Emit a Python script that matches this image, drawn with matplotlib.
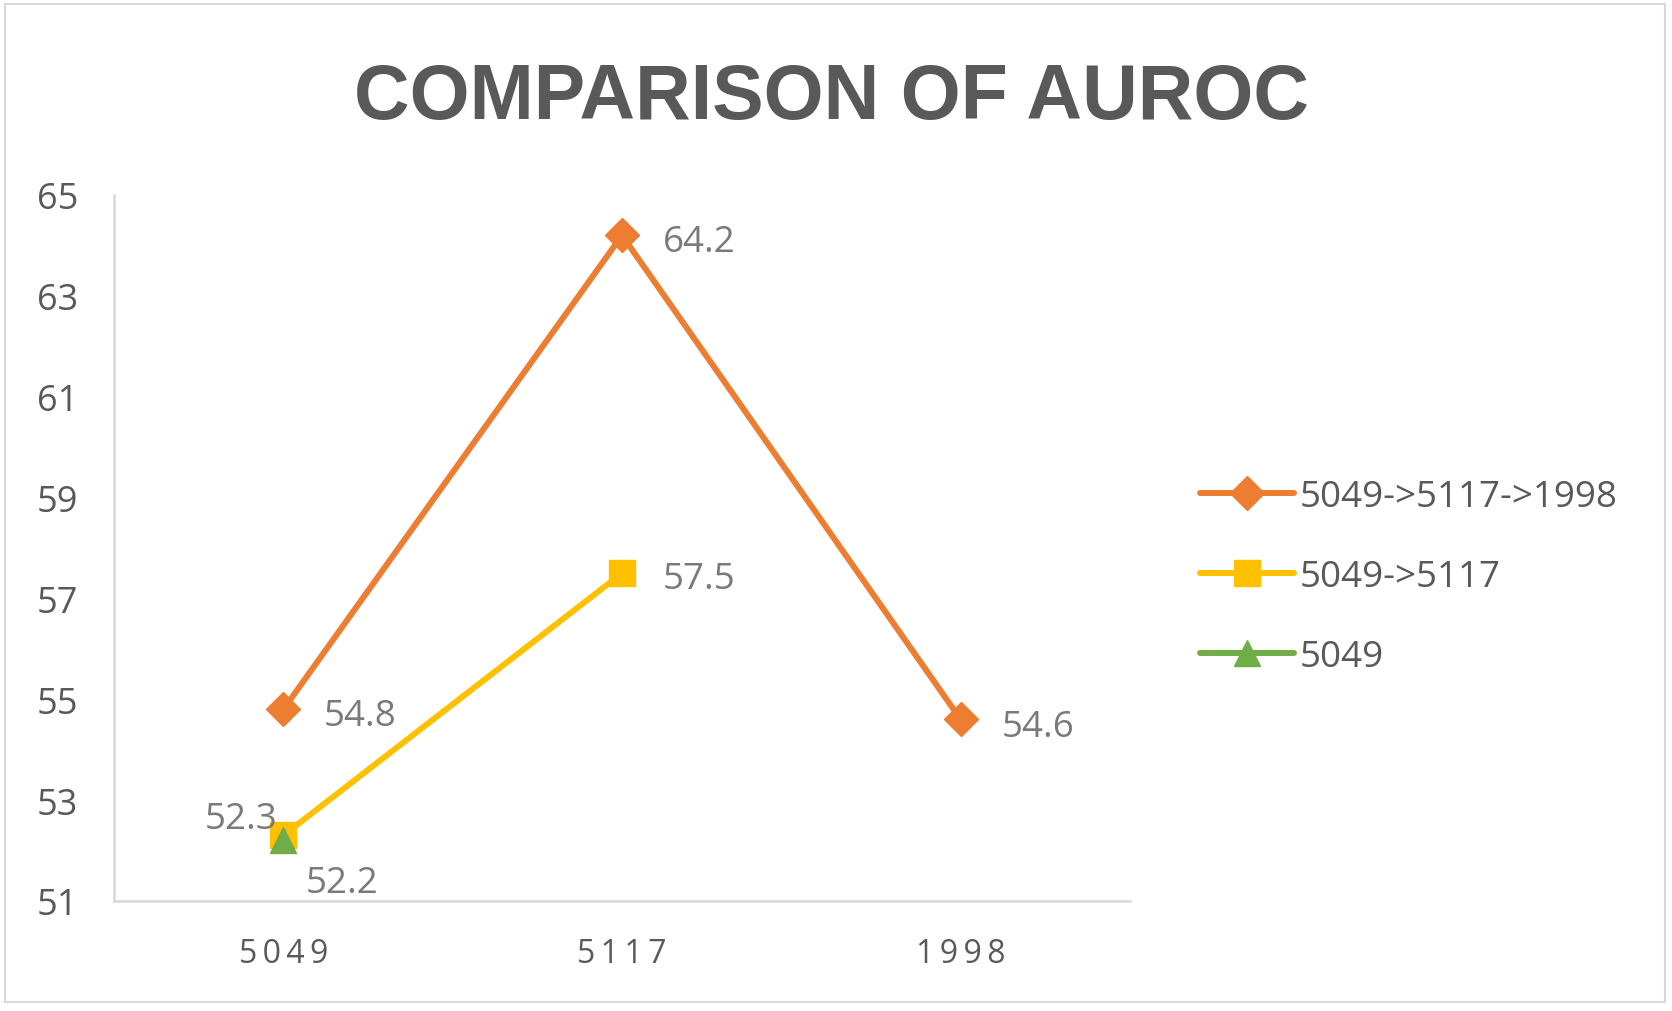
import matplotlib
matplotlib.use("Agg")
import matplotlib.pyplot as plt
from matplotlib.patches import Rectangle

plt.rcParams['font.family'] = ['Open Sans', 'DejaVu Sans']

categories = ["5049", "5117", "1998"]
series_names = ["5049->5117->1998", "5049->5117", "5049"]
s1 = [54.8, 64.2, 54.6]
s2 = [52.3, 57.5]
s3 = [52.2]
yticks = [51, 53, 55, 57, 59, 61, 63, 65]
title = "COMPARISON OF AUROC"

c1, c2, c3 = "#ED7D31", "#FFC000", "#70AD47"
txt = "#595959"
lbl = "#7A7A7A"
grid_c = "#D9D9D9"

fig = plt.figure(figsize=(16.72, 10.12), dpi=100)
ax = fig.add_axes([114/1672, 1-902/1012, (1130-114)/1672, (902-196)/1012])

x = list(range(len(categories)))
ax.plot(x[:len(s1)], s1, color=c1, lw=4.3, marker='D', ms=17, label=series_names[0], zorder=3,
        solid_capstyle='round')
ax.plot(x[:len(s2)], s2, color=c2, lw=4.3, marker='s', ms=19, label=series_names[1], zorder=4,
        solid_capstyle='round')
ax.plot(x[:len(s3)], s3, color=c3, lw=4.3, marker='^', ms=19, label=series_names[2], zorder=5,
        solid_capstyle='round')

ax.set_xlim(-0.5, len(categories) - 0.5)
ax.set_ylim(yticks[0], yticks[-1])
ax.set_yticks(yticks)
ax.set_yticklabels([str(v) for v in yticks], fontsize=26, color=txt)
ax.set_xticks(x)
ax.set_xticklabels(["\u2009".join(c) for c in categories], fontsize=23, color=txt)
ax.tick_params(axis='y', length=0, pad=26)
ax.tick_params(axis='x', length=0, pad=26)
for s in ['top', 'right']:
    ax.spines[s].set_visible(False)
for s in ['left', 'bottom']:
    ax.spines[s].set_color(grid_c)
    ax.spines[s].set_linewidth(1.8)

def lab(xi, yi, dx, dy, ha):
    ax.annotate(f"{yi:.1f}", (xi, yi), xytext=(dx, dy), textcoords='offset points',
                ha=ha, va='center', fontsize=26.5, color=lbl, zorder=6)

lab(0, s1[0], 29, -4.5, 'left')
lab(1, s1[1], 29.5, -4.5, 'left')
lab(2, s1[2], 29.5, -5.5, 'left')
lab(0, s2[0], -4, 12, 'right')
lab(1, s2[1], 29.5, -4.5, 'left')
lab(0, s3[0], 16, -30.5, 'left')

fig.text(832/1672, 1-119/1012, title, ha='center', va='baseline', fontsize=55.5,
         fontweight='bold', color=txt, family=['Liberation Sans', 'DejaVu Sans'])

leg = fig.legend(loc='center left', bbox_to_anchor=(1200/1672, 1-578/1012),
                 bbox_transform=fig.transFigure, frameon=False, fontsize=26.5,
                 handlelength=2.55, handletextpad=0.15, labelspacing=1.2,
                 borderpad=0, borderaxespad=0)
for t in leg.get_texts():
    t.set_color(txt)

fig.patches.append(Rectangle((5/1672, 1-1003/1012), (1665-5)/1672, (1003-5)/1012,
                             transform=fig.transFigure, fill=False, edgecolor=grid_c, lw=1.5))

fig.savefig("out.png", dpi=100, facecolor='white')
